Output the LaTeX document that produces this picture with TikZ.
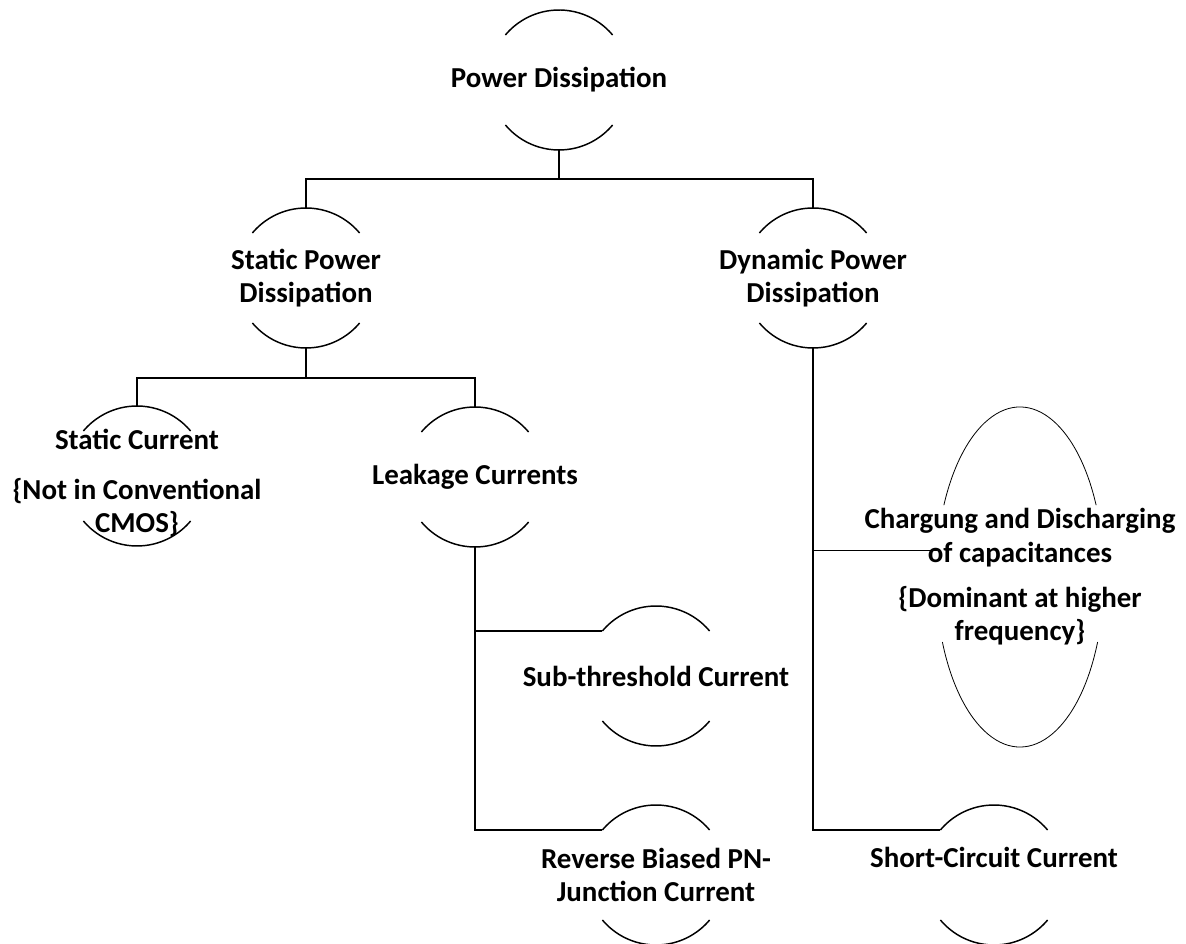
\documentclass[tikz,border=0pt]{standalone}
\usepackage{fontspec}
\setmainfont{Carlito}
\usetikzlibrary{shapes.geometric}

\begin{document}
\begin{tikzpicture}[x=0.75pt, y=-0.75pt, line width=1.1pt]
\tikzset{
  bub/.style={circle, minimum size=105pt, inner sep=0pt, outer sep=0pt},
  txt/.style={font=\fontsize{21.7}{25}\selectfont\bfseries, align=center},
}
\useasboundingbox (0,0) rectangle (1186,944);

% bubbles
\node[bub, label={[txt]center:Power Dissipation}] (pd) at (559,80) {};
\node[bub, label={[txt]center:{Static Power\\Dissipation}}] (spd) at (306,278) {};
\node[bub, label={[txt]center:{Dynamic Power\\Dissipation}}] (dpd) at (813,278) {};
\node[bub, label={[txt, yshift=-5pt]center:{Static Current\\[12.5pt]\{Not in Conventional\\CMOS\}}}] (sc) at (137,476) {};
\node[bub, label={[txt]center:Leakage Currents}] (lc) at (475,477) {};
\node[bub, label={[txt]center:Sub-threshold Current}] (sub) at (656,676) {};
\node[bub, label={[txt]center:{Reverse Biased PN-\\Junction Current}}] (rev) at (656,875) {};
\node[bub, label={[txt, yshift=13.5pt]center:Short-Circuit Current}] (short) at (994,875) {};
\node[ellipse, minimum width=126pt, minimum height=255pt, inner sep=0pt, outer sep=0pt,
      label={[txt]center:{Chargung and Discharging\\of capacitances\\[9pt]\{Dominant at higher\\frequency\}}}] (chg) at (1020,577) {};

% open outlines
\foreach \n in {pd,spd,dpd,sc,lc,sub,rev,short}
  \draw (\n.40) arc[start angle=40, end angle=140, radius=52.5pt]
        (\n.220) arc[start angle=220, end angle=320, radius=52.5pt];
\draw[line width=0.6pt] (chg.center) ++(25:63pt and 127.5pt)
  arc[start angle=25, end angle=155, x radius=63pt, y radius=127.5pt];
\draw[line width=0.6pt] (chg.center) ++(-22.5:63pt and 127.5pt)
  arc[start angle=-22.5, end angle=-157.5, x radius=63pt, y radius=127.5pt];

% connectors
\draw (pd.south) -- ++(0,29) -| (spd.north);
\draw (pd.south) -- ++(0,29) -| (dpd.north);
\draw (spd.south) -- ++(0,30) -| (sc.north);
\draw (spd.south) -- ++(0,30) -| (lc.north);
\draw (lc.south) |- (sub.140);
\draw (lc.south) |- (rev.140);
\draw[line width=0.6pt] (dpd.south) |- (chg.162);
\draw (dpd.south) |- (short.140);
\end{tikzpicture}
\end{document}
